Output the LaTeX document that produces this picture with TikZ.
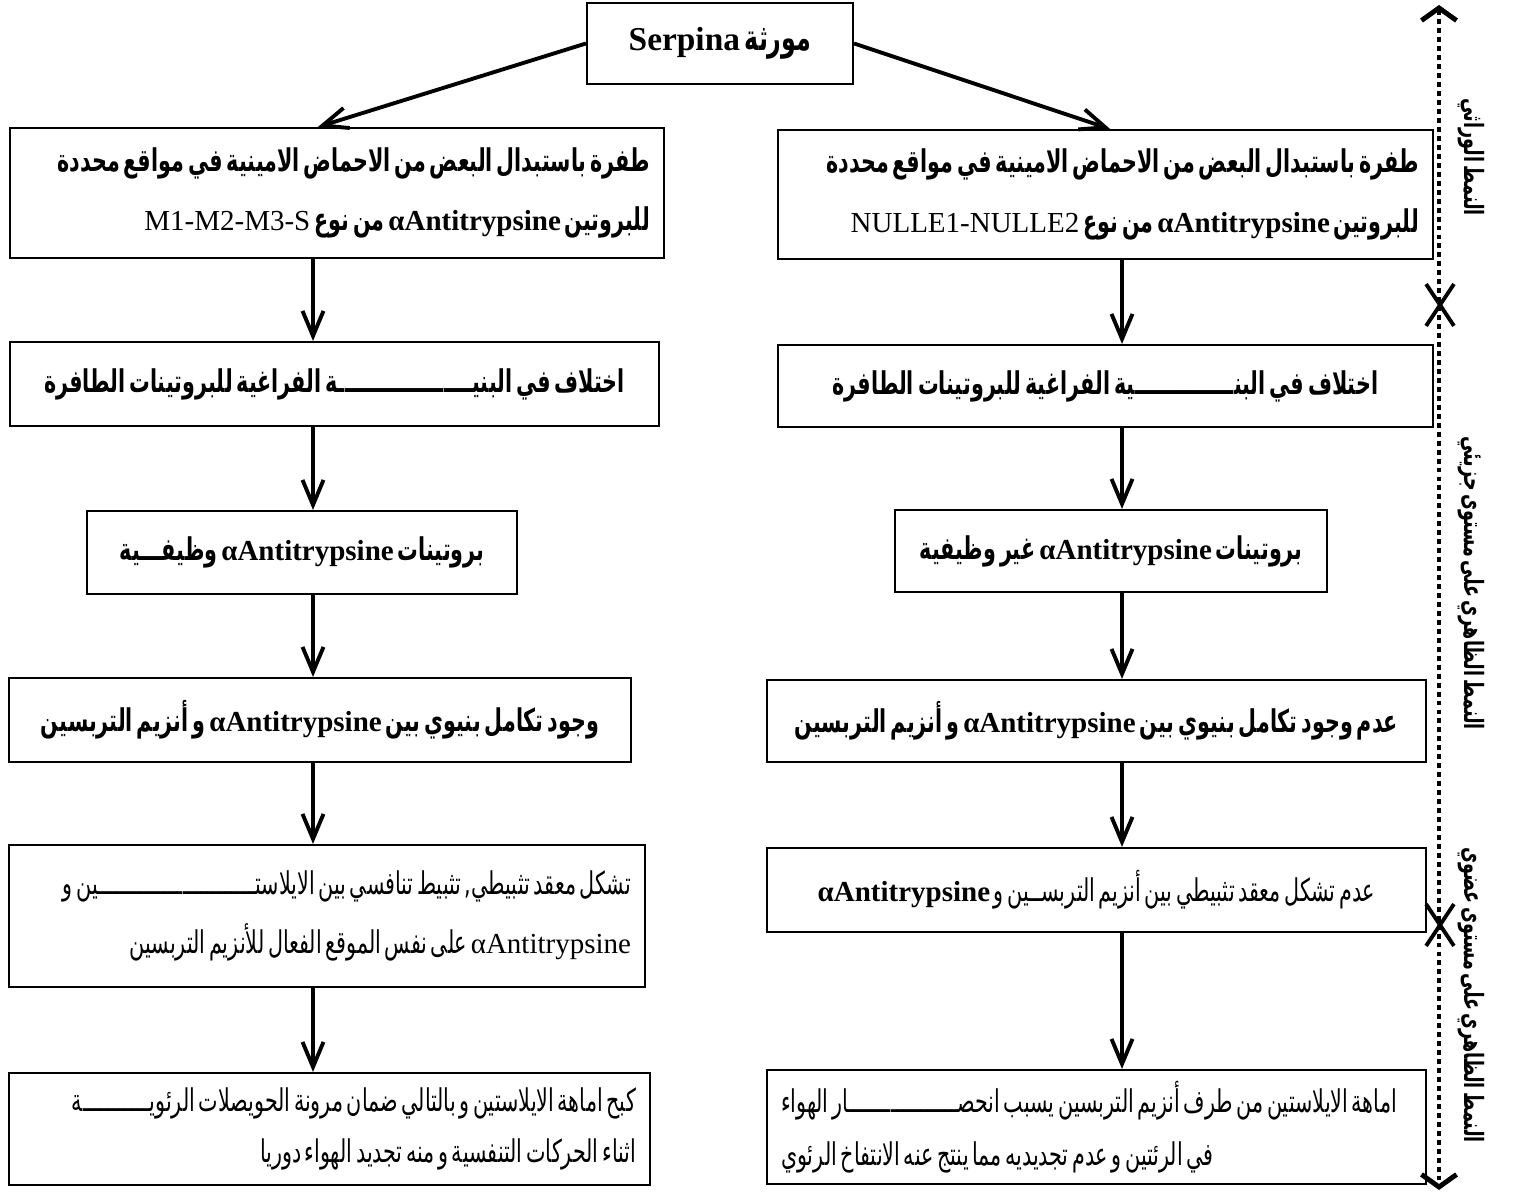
\documentclass[tikz,border=0pt]{standalone}
\usepackage{fontspec}
\setmainfont{Liberation Serif}
\newfontfamily\arabicfont[Script=Arabic,Scale=1.08,FakeStretch=0.66,WordSpace=0.55]{DejaVu Sans}
\TeXXeTstate=1
\usetikzlibrary{arrows.meta,positioning,shapes.misc}
\tikzstyle{box} = [draw=black, line width=1.2pt, minimum height=1.66cm, inner xsep=0.28cm, inner ysep=0pt, font=\fontsize{16.5}{34}\selectfont\bfseries, align=center]
\tikzstyle{twoline} = [align=right, font=\fontsize{16.5}{34}\selectfont\bfseries]
\tikzstyle{arrow} = [line width=2.2pt, -{Straight Barb[length=5mm,width=4.2mm]}]
\tikzstyle{dotline} = [line width=2.8pt, dash pattern=on 2.8pt off 2.3pt, {Straight Barb[length=2.5mm,width=7mm]}-{Straight Barb[length=2.5mm,width=7mm]}]
\tikzstyle{xmark} = [cross out, draw, line width=2.2pt, minimum width=0.48cm, minimum height=0.76cm, inner sep=0pt]
\tikzstyle{side} = [rotate=-90, font=\fontsize{14}{16}\selectfont\bfseries]
\newcommand{\rl}[1]{\beginR{\arabicfont\spaceskip=\fontdimen2\font\xspaceskip=\fontdimen2\font #1}\endR}
\newcommand{\lt}[1]{\beginL{\rmfamily #1}\endL}
\newcommand{\alf}{\beginL{\rmfamily\bfseries αAntitrypsine}\endL}

\begin{document}
\begin{tikzpicture}
\useasboundingbox (0,0) rectangle (30.46,23.88);
\draw (14.40,23.01) node (serp) [box, minimum width=5.32cm, minimum height=1.62cm, font=\fontsize{19}{22}\selectfont\bfseries] {\rl{مورثة \lt{Serpina}}};
% genotype
\draw (6.74,20.02) node (gl1) [box, twoline, text width=12.52cm, minimum height=2.60cm] {\rl{طفرة باستبدال البعض من الاحماض الامينية في مواقع محددة}\\\rl{للبروتين \alf{} من نوع \lt{\mdseries M1-M2-M3-S}}};
\draw (22.11,19.99) node (gr1) [box, twoline, text width=12.54cm, minimum height=2.58cm] {\rl{طفرة باستبدال البعض من الاحماض الامينية في مواقع محددة}\\\rl{للبروتين \alf{} من نوع \lt{\mdseries NULLE1-NULLE2}}};
% molecular level
\draw (6.69,16.20) node (gl2) [box, minimum width=12.98cm, minimum height=1.68cm] {\rl{اختلاف في البنيـــــــــــــــــــة الفراغية للبروتينات الطافرة}};
\draw (22.11,16.16) node (gr2) [box, minimum width=13.10cm, minimum height=1.64cm] {\rl{اختلاف في البنــــــــــــــية الفراغية للبروتينات الطافرة}};
\draw (6.04,12.83) node (gl3) [box, minimum width=8.60cm] {\rl{بروتينات \alf{} وظيفـــية}};
\draw (22.22,12.86) node (gr3) [box, minimum width=8.64cm, minimum height=1.64cm] {\rl{بروتينات \alf{} غير وظيفية}};
\draw (6.40,9.48) node (gl4) [box, minimum width=12.44cm, minimum height=1.68cm] {\rl{وجود تكامل بنيوي بين \alf{} و أنزيم التربسين}};
\draw (21.93,9.46) node (gr4) [box, minimum width=13.18cm, minimum height=1.64cm] {\rl{عدم وجود تكامل بنيوي بين \alf{} و أنزيم التربسين}};
% organ level
\draw (6.54,5.56) node (gl5) [box, twoline, text width=12.16cm, minimum height=2.84cm, font=\fontsize{16.5}{34}\selectfont] {\rl{تشكل معقد تثبيطي, تثبيط تنافسي بين الايلاستــــــــــــــــــــــــــين و}\\\rl{\lt{αAntitrypsine} على نفس الموقع الفعال للأنزيم التربسين}};
\draw (21.93,6.08) node (gr5) [box, minimum width=13.18cm, minimum height=1.68cm, font=\fontsize{16.5}{34}\selectfont] {\rl{عدم تشكل معقد تثبيطي بين أنزيم التربســين و \alf}};
\draw (6.59,1.30) node (gl6) [box, twoline, text width=12.26cm, minimum height=2.24cm, font=\fontsize{16.5}{29}\selectfont] {\rl{كبح اماهة الايلاستين و بالتالي ضمان مرونة الحويصلات الرئويـــــــــــة}\\\rl{اثناء الحركات التنفسية و منه تجديد الهواء دوريا}};
\draw (21.93,1.34) node (gr6) [box, align=left, text width=12.62cm, minimum height=2.28cm, font=\fontsize{16.5}{30}\selectfont] {\rl{اماهة الايلاستين من طرف أنزيم التربسين يسبب انحصــــــــــــــــــار الهواء}\\\rl{في الرئتين و عدم تجديديه مما ينتج عنه الانتفاخ الرئوي}};
% arrows
\coordinate (lx) at (6.26,0);
\coordinate (rx) at (22.44,0);
\draw [arrow] (serp.west) -- ([xshift=0.1cm]gl1.north -| lx);
\draw [arrow] (serp.east) -- ([xshift=-0.24cm]gr1.north -| rx);
\draw [arrow] (gl1.south -| lx) -- (gl2.north -| lx);
\draw [arrow] (gl2.south -| lx) -- (gl3.north -| lx);
\draw [arrow] (gl3.south -| lx) -- (gl4.north -| lx);
\draw [arrow] (gl4.south -| lx) -- (gl5.north -| lx);
\draw [arrow] (gl5.south -| lx) -- (gl6.north -| lx);
\draw [arrow] (gr1.south -| rx) -- (gr2.north -| rx);
\draw [arrow] (gr2.south -| rx) -- (gr3.north -| rx);
\draw [arrow] (gr3.south -| rx) -- (gr4.north -| rx);
\draw [arrow] (gr4.south -| rx) -- (gr5.north -| rx);
\draw [arrow] (gr5.south -| rx) -- (gr6.north -| rx);
% levels
\coordinate (atop) at (28.78,23.78);
\coordinate (abot) at (28.78,0.08);
\draw [dotline] (atop) -- (abot);
\draw (28.80,17.78) node (x1) [xmark] {};
\draw (28.80,5.38) node (x2) [xmark] {};
\draw (29.42,20.74) node (lab1) [side] {\rl{النمط الوراثي}};
\draw (29.42,12.22) node (lab2) [side] {\rl{النمط الظاهري على مستوى جزيئي}};
\draw (29.42,3.98) node (lab3) [side] {\rl{النمط الظاهري على مستوى عضوي}};
\end{tikzpicture}
\end{document}
